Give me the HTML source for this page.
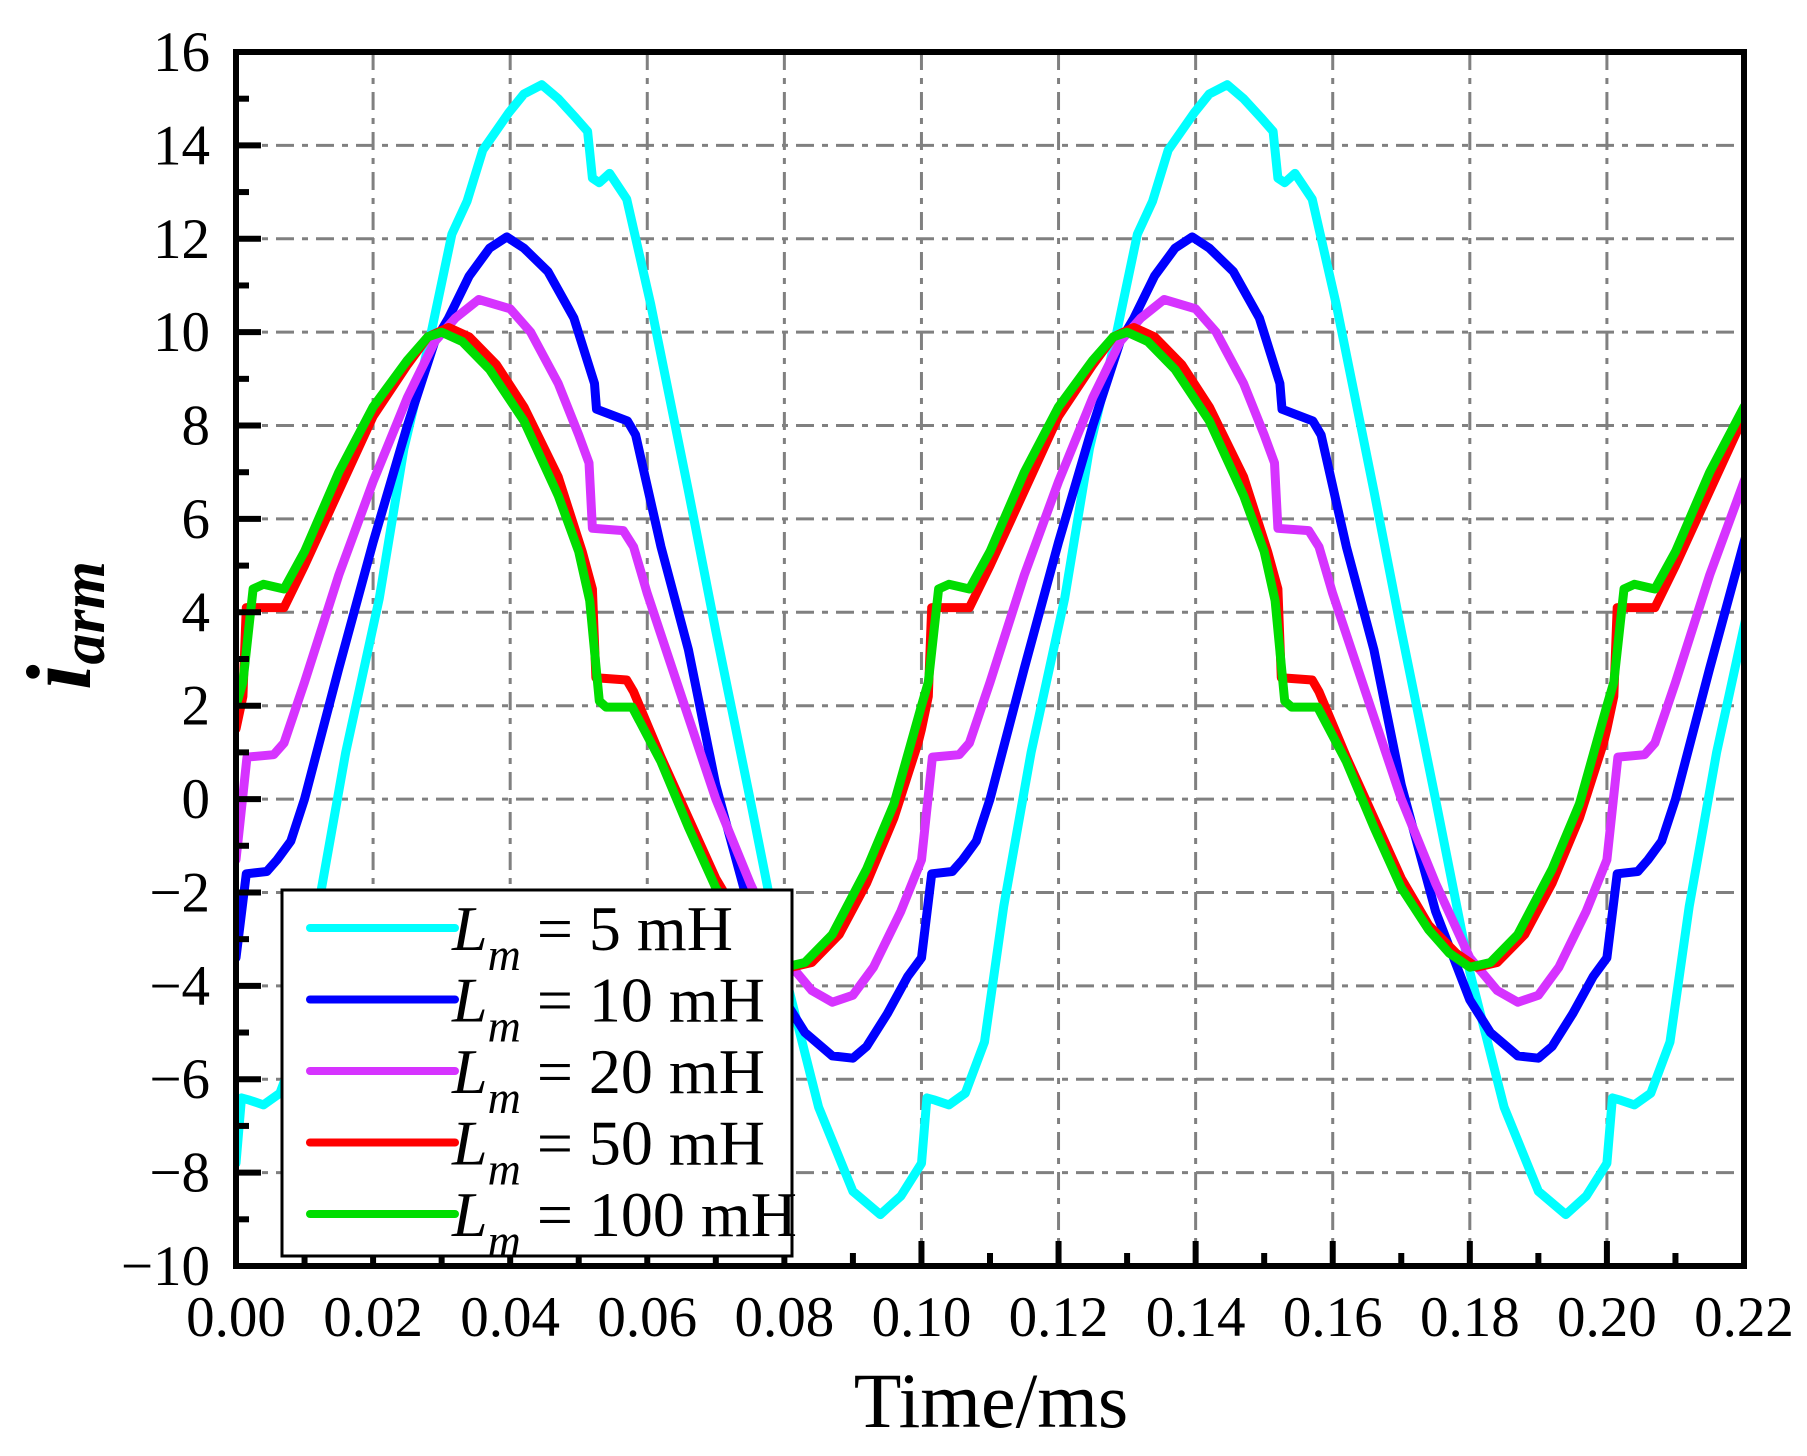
<!DOCTYPE html>
<html><head><meta charset="utf-8"><style>
html,body{margin:0;padding:0;background:#fff;}
svg{display:block;}
text{font-family:"Liberation Serif","Times New Roman",serif;}
</style></head><body>
<svg id="s" width="1807" height="1456" viewBox="0 0 1807 1456" xmlns="http://www.w3.org/2000/svg">
<defs><clipPath id="cp"><rect x="236" y="52" width="1508" height="1214"/></clipPath></defs>
<g id="grid" stroke="#808080" stroke-width="3" stroke-dasharray="18,8,6,8" fill="none"></g>
<g id="curves" clip-path="url(#cp)" fill="none" stroke-width="9" stroke-linejoin="round" stroke-linecap="round"></g>
<g id="ticks" stroke="#000" stroke-width="6"></g>
<rect x="236" y="52" width="1508" height="1214" fill="none" stroke="#000" stroke-width="6"/>
<g id="labels" font-size="57" fill="#000"></g>
<text x="991" y="1427" font-size="78" text-anchor="middle">Time/ms</text>
<text transform="translate(90,690) rotate(-90)" font-weight="bold" font-style="italic"><tspan font-size="92">i</tspan><tspan font-size="62" dy="14">arm</tspan></text>
<g id="legend">
<rect x="282" y="890" width="510" height="366" fill="#fff" stroke="#000" stroke-width="3"/>
</g>
</svg>
<script>
const NS="http://www.w3.org/2000/svg";
const X0=236,X1=1744,Y16=52,YM10=1266;
const tx=t=>X0+t/0.22*(X1-X0);
const vy=v=>Y16+(16-v)/26*(YM10-Y16);
function el(tag,attrs,parent,txt){const e=document.createElementNS(NS,tag);for(const k in attrs)e.setAttribute(k,attrs[k]);if(txt!==undefined)e.textContent=txt;parent.appendChild(e);return e;}
const grid=document.getElementById('grid'),ticks=document.getElementById('ticks'),labels=document.getElementById('labels');
for(let i=1;i<11;i++){const x=tx(i*0.02);el('line',{x1:x,y1:52,x2:x,y2:1266},grid);}
for(let v=-8;v<=14;v+=2){const y=vy(v);el('line',{x1:236,y1:y,x2:1744,y2:y},grid);}
for(let i=0;i<=22;i++){const x=tx(i*0.01);const L=(i%2==0)?25:13;el('line',{x1:x,y1:1266,x2:x,y2:1266-L},ticks);
 if(i%2==0)el('text',{x:x,y:1336,'text-anchor':'middle'},labels,(i*0.01).toFixed(2));}
for(let v=-10;v<=16;v++){const y=vy(v);const L=(v%2==0)?25:13;el('line',{x1:236,y1:y,x2:236+L,y2:y},ticks);
 if(v%2==0)el('text',{x:210,y:y+19,'text-anchor':'end'},labels,v<0?('\u2212'+(-v)):String(v));}
const D={
cyan:[[0,-7.8],[0.0008,-6.4],[0.002,-6.45],[0.004,-6.55],[0.0064,-6.3],[0.0092,-5.2],[0.012,-2.3],[0.016,1.0],[0.0209,4.3],[0.0245,7.5],[0.0282,9.8],[0.0315,12.1],[0.0337,12.8],[0.036,13.9],[0.0398,14.7],[0.042,15.1],[0.0446,15.3],[0.047,15.0],[0.0495,14.6],[0.0513,14.3],[0.052,13.3],[0.053,13.2],[0.0545,13.4],[0.057,12.85],[0.0605,10.6],[0.066,6.6],[0.07,3.6],[0.075,0.0],[0.08,-3.7],[0.085,-6.6],[0.09,-8.4],[0.094,-8.9],[0.097,-8.5],[0.1,-7.8]],
blue:[[0,-3.4],[0.0015,-1.6],[0.0045,-1.55],[0.006,-1.3],[0.008,-0.9],[0.01,0.0],[0.015,2.8],[0.02,5.5],[0.025,8.0],[0.029,9.8],[0.031,10.3],[0.034,11.2],[0.037,11.8],[0.0395,12.04],[0.042,11.8],[0.0455,11.3],[0.0493,10.3],[0.0523,8.9],[0.0526,8.35],[0.0571,8.1],[0.0583,7.8],[0.062,5.4],[0.066,3.2],[0.07,0.3],[0.075,-2.4],[0.08,-4.3],[0.083,-5.0],[0.087,-5.5],[0.09,-5.55],[0.092,-5.3],[0.095,-4.6],[0.098,-3.8],[0.1,-3.4]],
mag:[[0,-1.3],[0.0016,0.9],[0.0055,0.95],[0.007,1.2],[0.01,2.5],[0.015,4.8],[0.02,6.8],[0.025,8.6],[0.029,9.8],[0.032,10.3],[0.0354,10.7],[0.04,10.5],[0.043,10.0],[0.047,8.9],[0.05,7.8],[0.0515,7.2],[0.052,5.8],[0.0565,5.75],[0.058,5.4],[0.06,4.4],[0.065,2.2],[0.07,0.0],[0.075,-1.8],[0.08,-3.4],[0.084,-4.1],[0.087,-4.35],[0.09,-4.2],[0.093,-3.6],[0.097,-2.4],[0.1,-1.3]],
red:[[0,1.5],[0.001,2.2],[0.0015,4.1],[0.007,4.1],[0.01,5.0],[0.015,6.6],[0.02,8.2],[0.025,9.3],[0.028,9.9],[0.031,10.1],[0.034,9.9],[0.038,9.3],[0.042,8.4],[0.047,6.9],[0.0505,5.3],[0.052,4.5],[0.0525,2.6],[0.057,2.55],[0.058,2.3],[0.062,0.9],[0.066,-0.4],[0.07,-1.7],[0.074,-2.7],[0.078,-3.3],[0.081,-3.6],[0.084,-3.5],[0.088,-2.9],[0.092,-1.8],[0.096,-0.4],[0.0995,1.2],[0.1,1.5]],
green:[[0,2.0],[0.001,2.5],[0.0025,4.5],[0.004,4.6],[0.007,4.5],[0.01,5.3],[0.015,7.0],[0.02,8.4],[0.025,9.4],[0.028,9.9],[0.03,10.0],[0.033,9.8],[0.037,9.2],[0.042,8.1],[0.047,6.5],[0.05,5.3],[0.0516,4.25],[0.053,2.1],[0.054,1.97],[0.0578,1.97],[0.062,0.8],[0.066,-0.6],[0.07,-1.9],[0.074,-2.8],[0.077,-3.3],[0.08,-3.6],[0.083,-3.5],[0.087,-2.9],[0.092,-1.5],[0.096,-0.1],[0.1,2.0]]
};
const cols={cyan:'#00ffff',blue:'#0000ff',mag:'#d633ff',red:'#ff0000',green:'#00dd00'};
const cg=document.getElementById('curves');
for(const k of ['cyan','blue','mag','red','green']){
 let pts=[];for(let p=0;p<3;p++)for(const [t,v] of D[k]){const tt=t+p*0.1;if(tt<=0.235)pts.push(tx(tt).toFixed(1)+','+vy(v).toFixed(1));}
 el('polyline',{points:pts.join(' '),stroke:cols[k]},cg);
}
const lg=document.getElementById('legend');
const names=['5','10','20','50','100'],ks=['cyan','blue','mag','red','green'];
for(let i=0;i<5;i++){const y=928+i*71.5;
 el('line',{x1:310,y1:y,x2:455,y2:y,stroke:cols[ks[i]],'stroke-width':8,'stroke-linecap':'round'},lg);
 const t=el('text',{x:452,y:y+22,'font-size':64},lg);
 el('tspan',{'font-style':'italic'},t,'L');
 el('tspan',{'font-style':'italic','font-size':46,dy:20},t,'m');
 el('tspan',{dy:-20},t,' = '+names[i]+' mH');
}
</script>
</body></html>
